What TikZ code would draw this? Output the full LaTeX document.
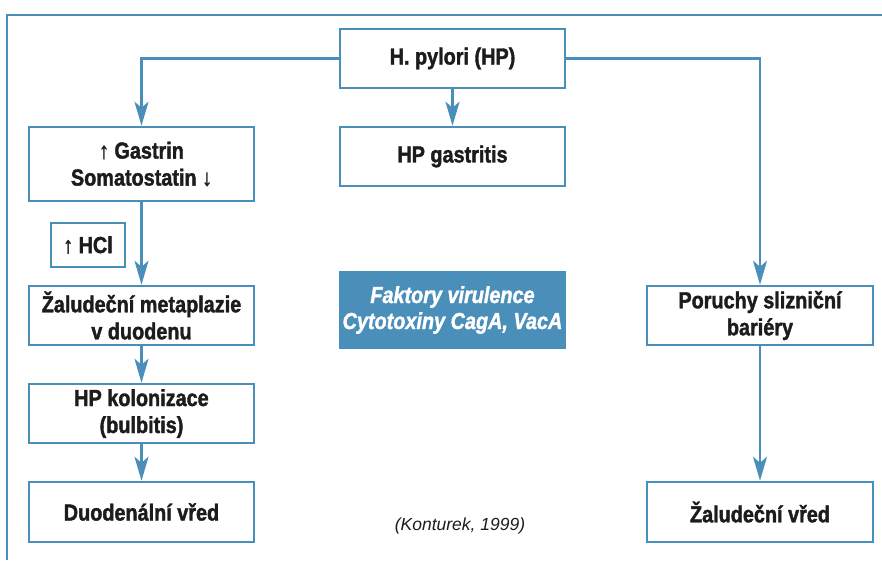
\documentclass[tikz,border=0pt]{standalone}
\usepackage{fontspec}
\setmainfont{Liberation Sans}[FakeStretch=0.855, BoldFeatures={FakeBold=1.6}, BoldItalicFeatures={FakeBold=1.6}]
\newfontfamily\citefont{Liberation Sans}
\usetikzlibrary{arrows.meta}
\definecolor{hpblue}{RGB}{74,142,186}
\definecolor{txt}{RGB}{30,27,28}
\begin{document}
\begin{tikzpicture}[x=1pt, y=-1pt,
    box/.style={draw=hpblue, line width=2.5pt, fill=white, text=txt, align=center,
      minimum width=225pt, minimum height=59pt, inner sep=2pt,
      font=\fontsize{23.2}{27}\selectfont\bfseries},
    darkbox/.style={box, fill=hpblue, text=white, minimum height=75pt,
      font=\fontsize{23.2}{26}\selectfont\bfseries\itshape},
    arr/.style={draw=hpblue, line width=2.5pt, -{Stealth[length=24pt, width=14pt, inset=6pt]}}]
          \useasboundingbox (0,0) rectangle (882,560);
          \draw[hpblue, line width=2pt] (7,560) -- (7,15) -- (882,15);

          \node[box] (hp) at (452.5,58.5) {H. pylori (HP)};
          \node[box] (gastritis) at (452.5,156.5) {HP gastritis};
          \node[darkbox] (faktory) at (452.5,310) {Faktory virulence\\Cytotoxiny CagA, VacA};

          \node[box, minimum height=74pt] (gastrin) at (141.5,164) {↑ Gastrin\\Somatostatin ↓};
          \node[box, minimum width=74pt, minimum height=44pt] (hcl) at (88,245) {↑ HCl};
          \node[box] (metaplazie) at (141.5,315.5) {Žaludeční metaplazie\\v duodenu};
          \node[box] (kolonizace) at (141.5,413.5) {HP kolonizace\\(bulbitis)};
          \node[box, minimum height=60pt] (dvred) at (141.5,512) {Duodenální vřed};

          \node[box, minimum width=226pt] (poruchy) at (760,315.5) {Poruchy slizniční\\bariéry};
          \node[box, minimum width=226pt, minimum height=60pt] (zvred) at (760,512) {Žaludeční vřed};

          \node[text=txt, font=\citefont\fontsize{17.5}{20}\selectfont\itshape] (zdroj) at (460,526) {(Konturek, 1999)};

          \draw[arr] (hp.west) -| (gastrin.north);
          \draw[arr] (hp.south) -- (gastritis.north);
          \draw[arr] (hp.east) -| (poruchy.north);

          \draw[arr] (gastrin.south) -- (metaplazie.north);
          \draw[arr] (metaplazie.south) -- (kolonizace.north);
          \draw[arr] (kolonizace.south) -- (dvred.north);

          \draw[arr] (poruchy.south) -- (zvred.north);
        \end{tikzpicture}
\end{document}
